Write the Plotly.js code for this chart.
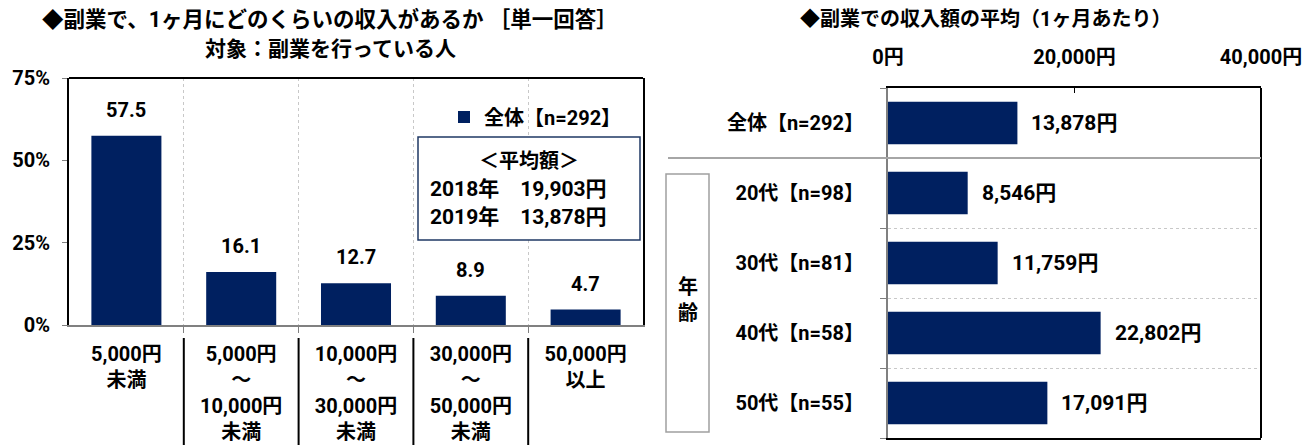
<!DOCTYPE html>
<html>
<head>
<meta charset="utf-8">
<script src="https://cdn.plot.ly/plotly-3.0.1.min.js"></script>
<style>html,body{margin:0;padding:0;background:#fff;}#chart{width:1311px;height:445px;}</style>
</head>
<body>
<div id="chart"></div>
<script>
// ---- data ----
const leftCategories = ["5,000円<br>未満", "5,000円<br>～<br>10,000円<br>未満", "10,000円<br>～<br>30,000円<br>未満", "30,000円<br>～<br>50,000円<br>未満", "50,000円<br>以上"];
const leftValues = [57.5, 16.1, 12.7, 8.9, 4.7];
const leftTickVals = [0, 25, 50, 75];
const leftTickText = ["0%", "25%", "50%", "75%"];
const legendName = "全体【n=292】";
const avgTitle = "＜平均額＞";
const avgYears = ["2018年", "2019年"];
const avgAmounts = ["19,903円", "13,878円"];

const rightCategories = ["全体【n=292】", "20代【n=98】", "30代【n=81】", "40代【n=58】", "50代【n=55】"];
const rightValues = [13878, 8546, 11759, 22802, 17091];
const rightTickVals = [0, 20000, 40000];
const rightTickText = ["0円", "20,000円", "40,000円"];
const groupLabel = "年<br>齢";

const leftTitle1 = "◆副業で、1ヶ月にどのくらいの収入があるか ［単一回答］";
const leftTitle2 = "対象：副業を行っている人";
const rightTitle = "◆副業での収入額の平均（1ヶ月あたり）";

// ---- styling ----
const FONT = "Roboto, 'Noto Sans CJK JP', sans-serif";
const NAVY = "#002060";
const W = 1311, H = 445;
const px = v => v / W;
const py = v => (H - v) / H;

const leftIdx = leftCategories.map((_, i) => i);
const rightIdx = rightCategories.map((_, i) => i);
const f = (size) => ({family: FONT, size: size, color: "#000", weight: "bold"});

const traces = [
  {type: "bar", x: leftIdx, y: leftValues, xaxis: "x", yaxis: "y",
   marker: {color: NAVY}, name: legendName, showlegend: true, hoverinfo: "y"},
  {type: "bar", orientation: "h", x: rightValues, y: rightIdx, xaxis: "x2", yaxis: "y2",
   marker: {color: NAVY}, showlegend: false, hoverinfo: "x"}
];

const annotations = [];
leftValues.forEach((v, i) => annotations.push({
  xref: "x", yref: "y", x: i, y: v, text: v.toFixed(1), showarrow: false,
  xanchor: "center", yanchor: "bottom", yshift: 12, font: f(20)
}));
rightValues.forEach((v, i) => annotations.push({
  xref: "x2", yref: "y2", x: v, y: i, text: v.toLocaleString("en-US") + "円", showarrow: false,
  xanchor: "left", yanchor: "middle", xshift: 12, font: f(21)
}));
const addText = (x, y, text, size) => annotations.push({xref: "paper", yref: "paper", x: px(x), y: py(y), text: text,
  showarrow: false, xanchor: "center", yanchor: "middle", font: f(size)});
addText(330, 19, leftTitle1, 21.5);
addText(330, 49, leftTitle2, 21);
addText(985, 19, rightTitle, 20);
addText(529, 161, avgTitle, 20);
avgYears.forEach((yr, i) => addText(518, 189 + 28 * i, yr + "　" + avgAmounts[i], 21));
addText(688, 300, groupLabel, 20);

const shapes = [
  // left chart top border
  {type: "line", xref: "x domain", yref: "y domain", x0: 0, x1: 1, y0: 1, y1: 1, line: {color: "#000", width: 2}},
  // average box
  {type: "rect", xref: "paper", yref: "paper", x0: px(418), x1: px(640), y0: py(240), y1: py(137),
   line: {color: "#1F3864", width: 1.5}, fillcolor: "#fff", layer: "above"},
  // right chart right border
  {type: "line", xref: "x2 domain", yref: "y2 domain", x0: 1, x1: 1, y0: 0, y1: 1, line: {color: "#000", width: 2}},
  // separator between total and age groups
  {type: "line", xref: "paper", yref: "y2", x0: px(668), x1: px(1261), y0: 0.5, y1: 0.5, line: {color: "#A6A6A6", width: 2}},
  // age group box
  {type: "rect", xref: "paper", yref: "paper", x0: px(666), x1: px(709), y0: py(432), y1: py(174),
   line: {color: "#A0A0A0", width: 1.5}}
];
// separators under left category labels
for (let i = 0; i < leftCategories.length - 1; i++) {
  shapes.push({type: "line", xref: "x", yref: "paper", x0: i + 0.5, x1: i + 0.5, y0: 0, y1: py(338),
    line: {color: "#000", width: 2}});
}

const layout = {
  width: W, height: H,
  margin: {l: 0, r: 0, t: 0, b: 0},
  paper_bgcolor: "#fff", plot_bgcolor: "#fff",
  bargap: 0.39,
  font: {family: FONT, size: 20, color: "#000", weight: "bold"},
  showlegend: true,
  legend: {x: px(444), y: py(117), xanchor: "left", yanchor: "middle", bgcolor: "rgba(0,0,0,0)",
           font: f(20), itemwidth: 30, tracegroupgap: 0},
  xaxis: {domain: [px(69), px(643)], range: [-0.5, leftCategories.length - 0.5],
          tickmode: "array", tickvals: leftIdx, ticktext: leftCategories, ticks: "",
          tickfont: f(20), ticklabelstandoff: 10,
          showline: true, linecolor: "#808080", linewidth: 2, showgrid: false, zeroline: false,
          minor: {tickmode: "array", tickvals: [0.5, 1.5, 2.5, 3.5], ticks: "outside", ticklen: 6, tickcolor: "#808080",
                  showgrid: true, gridcolor: "#C8C8C8", griddash: "dot", gridwidth: 1},
          fixedrange: true},
  yaxis: {domain: [py(325), py(78)], range: [0, 75], tickmode: "array", tickvals: leftTickVals, ticktext: leftTickText,
          ticks: "outside", ticklen: 5, tickcolor: "#808080", tickfont: f(20), ticklabelstandoff: 8,
          showline: true, linecolor: "#000", linewidth: 2, mirror: true, showgrid: false, zeroline: false,
          fixedrange: true},
  xaxis2: {domain: [px(888), px(1261)], anchor: "y2", side: "top", range: [0, 40000],
           tickmode: "array", tickvals: rightTickVals, ticktext: rightTickText,
           ticks: "inside", ticklen: 5, tickcolor: "#000", tickfont: f(20), ticklabelstandoff: 14,
           showline: true, linecolor: "#000", linewidth: 2, mirror: true, showgrid: false, zeroline: false,
           fixedrange: true},
  yaxis2: {domain: [py(438), py(88)], anchor: "x2", range: [rightCategories.length - 0.5, -0.5],
           tickmode: "array", tickvals: rightIdx, ticktext: rightCategories, ticks: "",
           tickfont: f(20), ticklabelstandoff: 18,
           showline: true, linecolor: "#808080", linewidth: 2, showgrid: false, zeroline: false,
           minor: {tickmode: "array", tickvals: [-0.5, 0.5, 1.5, 2.5, 3.5, 4.5], ticks: "outside", ticklen: 6, tickcolor: "#808080",
                   showgrid: true, gridcolor: "#C8C8C8", griddash: "dot", gridwidth: 1},
           fixedrange: true},
  annotations: annotations,
  shapes: shapes
};

Plotly.newPlot("chart", traces, layout, {displayModeBar: false, staticPlot: true});
</script>
</body>
</html>
